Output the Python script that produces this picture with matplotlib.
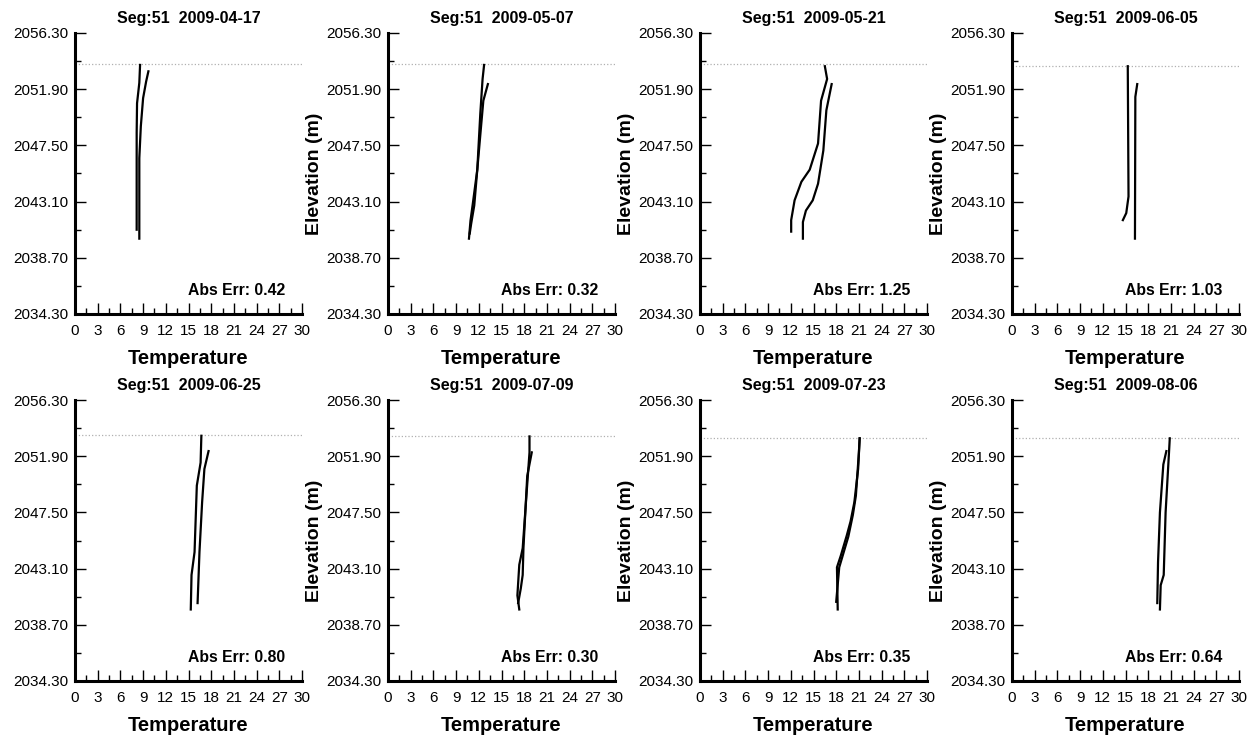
import matplotlib
matplotlib.use("Agg")
import matplotlib.pyplot as plt
import numpy as np

plt.rcParams['font.family'] = ['Liberation Sans', 'DejaVu Sans']

# one entry per panel, left-to-right, top-to-bottom
dates = ["2009-04-17", "2009-05-07", "2009-05-21", "2009-06-05",
         "2009-06-25", "2009-07-09", "2009-07-23", "2009-08-06"]
abs_err = [0.42, 0.32, 1.25, 1.03, 0.80, 0.30, 0.35, 0.64]
surface = [2053.85, 2053.85, 2053.85, 2053.75, 2053.55, 2053.45, 2053.35, 2053.3]

# first profile in each panel (temperature, elevation)
temp_a = [
    [8.6, 8.5, 8.2, 8.15, 8.15, 8.15, 8.15],
    [12.7, 12.5, 12.2, 11.8, 11.2, 10.9, 10.7],
    [16.5, 16.8, 16.0, 15.6, 14.5, 13.4, 12.5, 12.05, 12.05],
    [15.3, 15.4, 15.1, 14.65],
    [16.7, 16.6, 16.1, 15.8, 15.4, 15.3],
    [18.7, 18.7, 17.8, 17.35, 17.1, 17.35],
    [21.1, 20.9, 20.4, 19.9, 19.4, 18.6, 18.1, 18.2],
    [20.85, 20.75, 20.3, 20.05, 19.65, 19.55],
]
elev_a = [
    [2053.8, 2052.4, 2050.8, 2048.5, 2046.0, 2043.0, 2040.9],
    [2053.8, 2052.7, 2050.0, 2045.6, 2042.9, 2041.6, 2040.2],
    [2053.7, 2052.7, 2051.0, 2047.65, 2045.6, 2044.65, 2043.2, 2041.65, 2040.75],
    [2053.7, 2043.5, 2042.2, 2041.65],
    [2053.5, 2051.4, 2049.6, 2044.4, 2042.6, 2039.9],
    [2053.45, 2052.2, 2044.7, 2043.4, 2041.0, 2039.9],
    [2053.3, 2050.9, 2048.3, 2046.8, 2045.7, 2044.1, 2043.2, 2039.9],
    [2053.3, 2052.2, 2047.5, 2042.6, 2041.8, 2039.9],
]

# second profile in each panel
temp_b = [
    [9.7, 9.4, 9.0, 8.7, 8.5, 8.5, 8.5],
    [13.2, 12.6, 12.3, 11.8, 11.4, 11.0, 10.8],
    [17.4, 16.7, 16.3, 15.6, 14.9, 14.0, 13.6, 13.6],
    [16.55, 16.3, 16.25],
    [17.65, 17.1, 16.8, 16.45, 16.2],
    [19.0, 18.4, 17.9, 17.8, 17.55, 17.2],
    [21.1, 21.0, 20.6, 20.2, 19.6, 18.8, 18.4, 18.0],
    [20.4, 20.0, 19.55, 19.3, 19.2],
]
elev_b = [
    [2053.3, 2052.5, 2051.2, 2049.0, 2046.5, 2043.0, 2040.2],
    [2052.3, 2051.0, 2049.0, 2045.6, 2042.8, 2041.4, 2040.6],
    [2052.3, 2050.25, 2047.1, 2044.5, 2043.2, 2042.4, 2041.5, 2040.2],
    [2052.3, 2051.3, 2040.2],
    [2052.3, 2050.9, 2048.3, 2044.4, 2040.4],
    [2052.2, 2050.35, 2044.7, 2042.6, 2041.55, 2040.4],
    [2053.3, 2052.2, 2048.8, 2047.3, 2045.6, 2044.0, 2043.2, 2040.5],
    [2052.3, 2051.25, 2047.5, 2043.6, 2040.4],
]

W, H = 1256, 739
fig = plt.figure(figsize=(W / 100, H / 100), dpi=100)

col_left = [75, 388, 700, 1012]
ax_w = 227
row_top = [33, 400]
ax_h = 281

ymin, ymax = 2034.3, 2056.3
yticks = np.arange(ymin, ymax + 0.01, 4.4)

for i in range(8):
    r, c = divmod(i, 4)
    ax = fig.add_axes([col_left[c] / W, 1 - (row_top[r] + ax_h) / H, ax_w / W, ax_h / H])

    ax.axhline(surface[i], color='#b0b0b0', lw=0.9, ls=':')
    ax.plot(temp_a[i], elev_a[i], color='black', lw=1.6)
    ax.plot(temp_b[i], elev_b[i], color='black', lw=1.6)

    ax.set_xlim(0, 30)
    ax.set_ylim(ymin, ymax)
    ax.set_xticks(np.arange(0, 31, 3))
    ax.set_xticks(np.arange(1.5, 30, 3), minor=True)
    ax.set_yticks(yticks)
    ax.set_yticks(yticks[:-1] + 2.2, minor=True)
    ax.set_yticklabels(['%.2f' % v for v in yticks])

    for s in ['top', 'right']:
        ax.spines[s].set_visible(False)
    for s in ['left', 'bottom']:
        ax.spines[s].set_linewidth(2.2)

    ax.tick_params(which='major', direction='in', length=8, width=1, labelsize=11)
    ax.tick_params(which='minor', direction='in', length=4.5, width=1)
    ax.tick_params(axis='x', which='major', pad=7)
    ax.tick_params(axis='y', which='major', pad=5)

    ax.set_title('Seg:51  ' + dates[i], fontsize=11.5, fontweight='bold', pad=7)
    ax.set_xlabel('Temperature', fontsize=14.5, fontweight='bold', labelpad=8)
    # the first column's label falls outside the picture in the original
    if c > 0:
        ax.set_ylabel('Elevation (m)', fontsize=14, fontweight='bold', labelpad=2)
    ax.text(0.925, 0.085, 'Abs Err: %.2f' % abs_err[i], transform=ax.transAxes,
            ha='right', va='center', fontsize=11.3, fontweight='bold')

fig.savefig('out.png', dpi=100)
